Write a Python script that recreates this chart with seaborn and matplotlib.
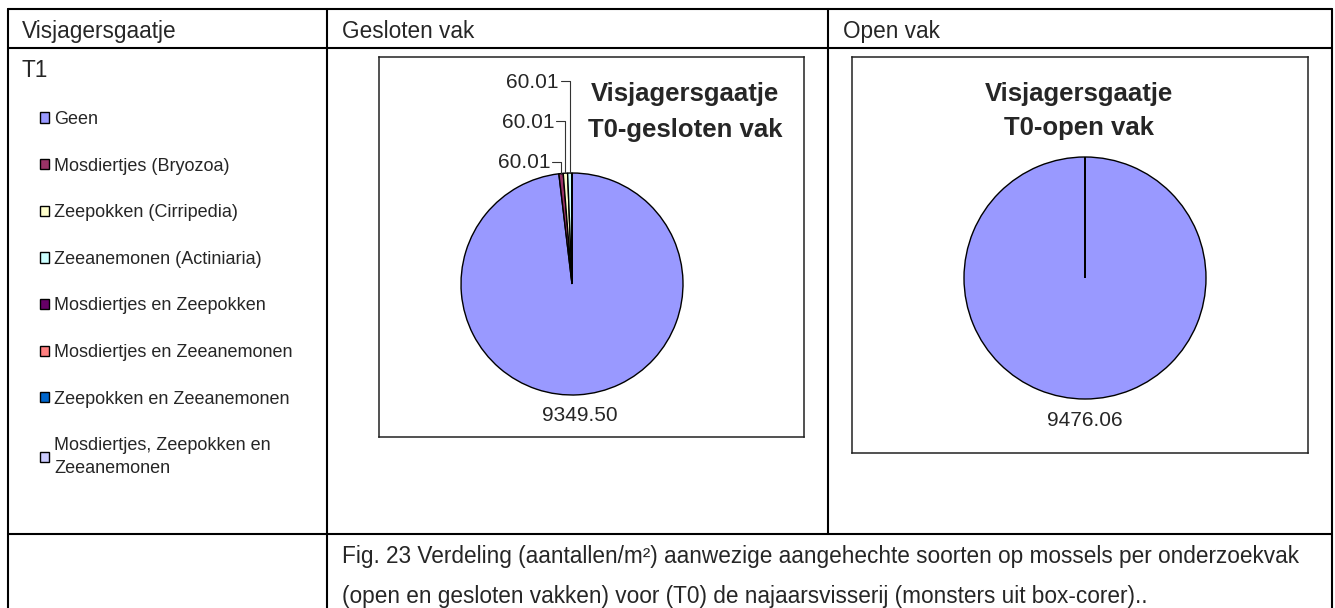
import math
import textwrap

import matplotlib
matplotlib.use("Agg")
import matplotlib.pyplot as plt
import seaborn as sns
from matplotlib.lines import Line2D

# Categories of attached species on mussels (aantallen/m2)
categories = [
    "Geen",
    "Mosdiertjes (Bryozoa)",
    "Zeepokken (Cirripedia)",
    "Zeeanemonen (Actiniaria)",
    "Mosdiertjes en Zeepokken",
    "Mosdiertjes en Zeeanemonen",
    "Zeepokken en Zeeanemonen",
    "Mosdiertjes, Zeepokken en Zeeanemonen",
]
colors = ["#9999FF", "#993366", "#FFFFCC", "#CCFFFF",
          "#660066", "#FF8080", "#0066CC", "#CCCCFF"]

gesloten_values = [9349.50, 60.01, 60.01, 60.01, 0, 0, 0, 0]
open_values = [9476.06, 0, 0, 0, 0, 0, 0, 0]

gesloten_title = "Visjagersgaatje\nT0-gesloten vak"
open_title = "Visjagersgaatje\nT0-open vak"

header_labels = ["Visjagersgaatje", "Gesloten vak", "Open vak"]
row_label = "T1"
caption_lines = [
    "Fig. 23 Verdeling (aantallen/m\u00b2) aanwezige aangehechte soorten op mossels per onderzoekvak",
    "(open en gesloten vakken) voor (T0) de najaarsvisserij (monsters uit box-corer)..",
]

sns.set_theme(style="white")
plt.rcParams["font.family"] = ["Liberation Sans", "DejaVu Sans"]

W, H = 1335, 608
fig = plt.figure(figsize=(W / 100, H / 100), dpi=100)
fig.patch.set_facecolor("white")

# Full-figure axes in pixel units for the table grid and cell text
grid = fig.add_axes([0, 0, 1, 1])
grid.set_xlim(0, W)
grid.set_ylim(H, 0)
grid.axis("off")

lw = 1.5
for y, x0, x1 in [(9, 8, 1332), (48, 8, 1332), (534, 8, 1332)]:
    grid.add_line(Line2D([x0, x1], [y, y], color="black", lw=lw))
for x, y0, y1 in [(8, 9, 608), (327, 9, 608), (828, 9, 534), (1332, 9, 608)]:
    grid.add_line(Line2D([x, x], [y0, y1], color="black", lw=lw))

cell_fs = 16.3
for x, txt in zip([22, 342, 843], header_labels):
    grid.text(x, 38, txt, ha="left", va="baseline", fontsize=cell_fs)
grid.text(22, 77, row_label, ha="left", va="baseline", fontsize=cell_fs)
for y, txt in zip([563, 603], caption_lines):
    grid.text(342, y, txt, ha="left", va="baseline", fontsize=cell_fs)


def chart_axes(x0, y0, x1, y1):
    return fig.add_axes([x0 / W, 1 - y1 / H, (x1 - x0) / W, (y1 - y0) / H])


def style_box(ax, w, h):
    ax.set_aspect("auto")
    ax.set_xlim(0, w)
    ax.set_ylim(0, h)
    ax.set_xticks([])
    ax.set_yticks([])
    for s in ax.spines.values():
        s.set_visible(True)
        s.set_color("#222222")
        s.set_linewidth(1.1)


def draw_pie(ax, values, center, radius):
    wedges, _ = ax.pie(
        values, colors=colors, startangle=90, counterclock=False,
        center=center, radius=radius, frame=True,
        wedgeprops=dict(edgecolor="black", linewidth=1.0),
    )
    return wedges


def wedge_point(w, frac=1.0):
    mid = math.radians((w.theta1 + w.theta2) / 2)
    cx, cy = w.center
    return cx + w.r * frac * math.cos(mid), cy + w.r * frac * math.sin(mid)


# --- Gesloten vak ---
ax1 = chart_axes(379, 57, 804, 437)
w1 = draw_pie(ax1, gesloten_values, center=(193, 153), radius=111)
style_box(ax1, 425, 380)
ax1.text(306, 325, gesloten_title, ha="center", va="center",
         fontsize=18.5, fontweight="bold", linespacing=1.65)

# main value under the pie
gx, gy = wedge_point(w1[0], 1.19)
ax1.text(gx, gy, f"{gesloten_values[0]:.2f}", ha="center", va="center", fontsize=15)

# small slices: stacked labels with elbow leader lines
small_idx = [i for i, v in enumerate(gesloten_values) if v > 0 and i > 0]
label_rows = [274, 315, 355]  # bottom to top, first small slice lowest
for i, ly in zip(small_idx, label_rows):
    px, py = wedge_point(w1[i])
    lx = px - 9
    ax1.text(lx - 2, ly, f"{gesloten_values[i]:.2f}", ha="right", va="center", fontsize=15)
    ax1.plot([lx, px, px], [ly + 1, ly + 1, py], color="#333333", lw=0.8)

# --- Open vak ---
ax2 = chart_axes(852, 57, 1308, 453)
w2 = draw_pie(ax2, open_values, center=(233, 175), radius=121)
style_box(ax2, 456, 396)
ax2.text(227, 342, open_title, ha="center", va="center",
         fontsize=18.5, fontweight="bold", linespacing=1.55)
ox, oy = wedge_point(w2[0], 1.18)
ax2.text(ox, oy, f"{open_values[0]:.2f}", ha="center", va="center", fontsize=15)

# --- Legend in the left column ---
leg_labels = [textwrap.fill(c, 26) for c in categories]
leg = fig.legend(
    w1, leg_labels, loc="upper left",
    bbox_to_anchor=(40 / W, 1 - 111 / H),
    frameon=False, fontsize=13, handlelength=0.5, handleheight=0.5,
    handletextpad=0.3, labelspacing=1.64, borderaxespad=0, borderpad=0,
)
for t in leg.get_texts():
    t.set_linespacing(1.45)

fig.savefig("out.png", dpi=100, facecolor="white")
